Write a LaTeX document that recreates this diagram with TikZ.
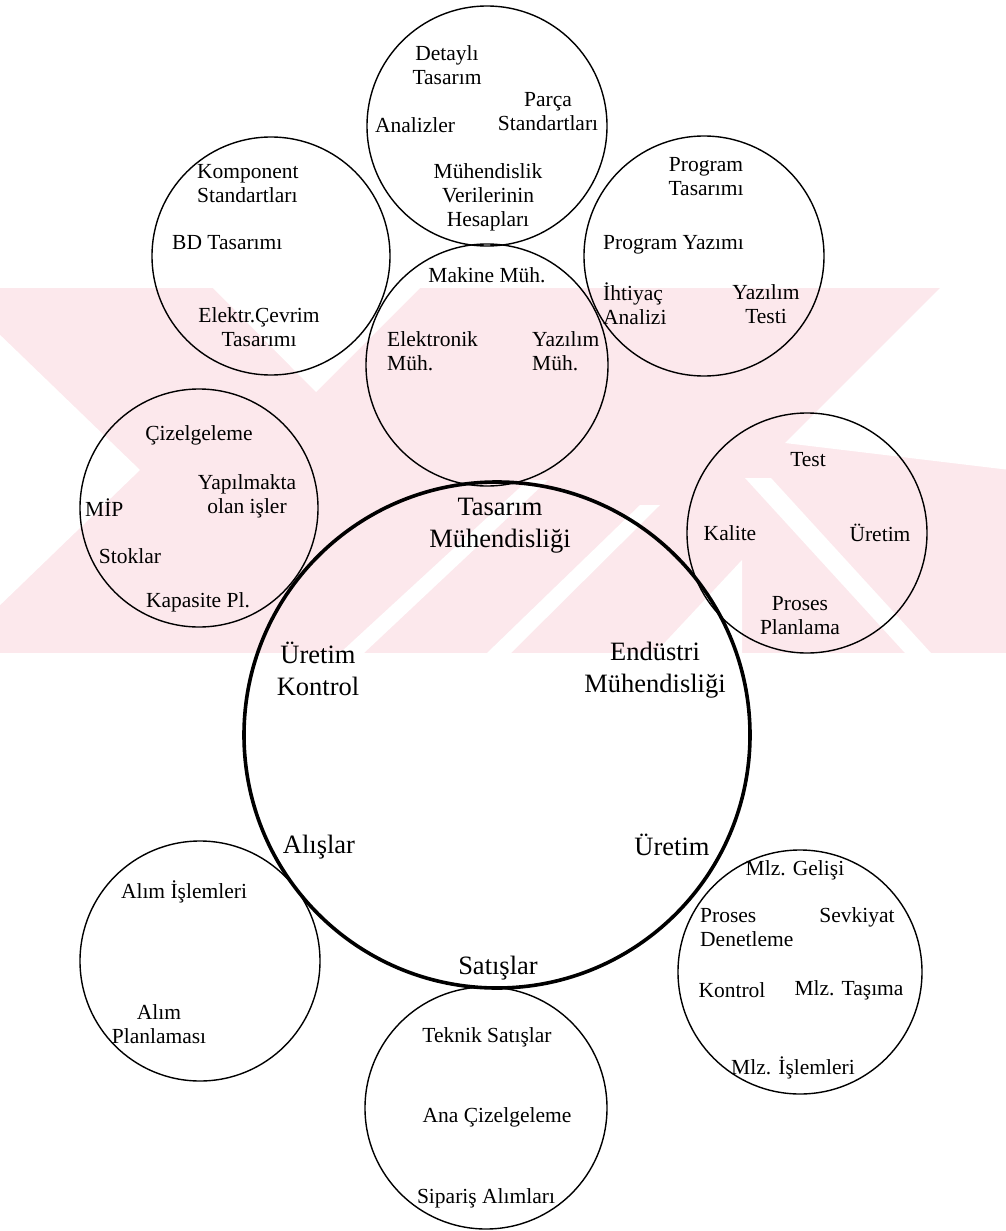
\documentclass[tikz,border=0pt]{standalone}
\usepackage{fontspec}
\setmainfont{Liberation Serif}
\definecolor{wmpink}{RGB}{252,232,236}
\begin{document}
\begin{tikzpicture}[x=1pt,y=-1pt,
  area/.style={circle, draw=black, line width=1.4pt, inner sep=0pt, minimum size=#1},
  core/.style={circle, draw=black, line width=3.6pt, inner sep=0pt, minimum size=#1},
  lbl/.style={font=\fontsize{21.5}{24}\selectfont, inner sep=0pt, align=center},
  lbll/.style={font=\fontsize{21.5}{24}\selectfont, inner sep=0pt, align=left, anchor=west},
  dept/.style={font=\fontsize{26.5}{32}\selectfont, inner sep=0pt, align=center}]
\useasboundingbox (0,0) rectangle (1006,1231);
\fill[white] (0,0) rectangle (1006,1231);

% faint background emblem: a pale band cut by white wedges and stripes
\begin{scope}
  \clip (0,288) rectangle (1006,653);
  \fill[wmpink] (0,288) rectangle (1006,653);
  \fill[white] (-5,330) -- (140,470) -- (-5,610) -- cycle;
  \fill[white] (213,288) -- (420,288) -- (316,392) -- cycle;
  \fill[white] (940,288) -- (1010,288) -- (1010,470) -- (785,443) -- cycle;
  \fill[white] (745,478) -- (771,478) -- (931,653) -- (905,653) -- cycle;
  \fill[white] (340,653) -- (528,480) -- (548,480) -- (364,653) -- cycle;
  \fill[white] (487,653) -- (640,505) -- (660,505) -- (511,653) -- cycle;
  \fill[white] (655,653) -- (742,560) -- (742,653) -- cycle;
\end{scope}

% central circle
\node[core=506pt] (core) at (497,735) {};

% surrounding circles
\node[area=240pt] (top)   at (487,126) {};
\node[area=242pt] (mid)   at (487,365) {};
\node[area=238pt] (ul)    at (271,256) {};
\node[area=240pt] (ur)    at (704,256) {};
\node[area=238pt] (ml)    at (199,508) {};
\node[area=240pt] (mr)    at (807,533) {};
\node[area=240pt] (bl)    at (200,961) {};
\node[area=244pt] (br)    at (800,972) {};
\node[area=242pt] (bot)   at (486,1108) {};

% department labels
\node[dept] (d1) at (500,526) {Tasarım\\Mühendisliği};
\node[dept] (d2) at (318,669) {Üretim\\Kontrol};
\node[dept] (d3) at (655,670) {Endüstri\\Mühendisliği};
\node[dept] (d4) at (319,847) {Alışlar};
\node[dept] (d5) at (672,845) {Üretim};
\node[dept] (d6) at (498,968) {Satışlar};

% top circle
\node[lbl] (t1) at (447,65) {Detaylı\\Tasarım};
\node[lbl] (t2) at (548,112) {Parça\\Standartları};
\node[lbl] (t3) at (415,125) {Analizler};
\node[lbl] (t4) at (488,197) {Mühendislik\\Verilerinin\\Hesapları};

% middle circle
\node[lbl] (m1) at (487,275) {Makine Müh.};
\node[lbll] (m2) at (387,351) {Elektronik\\Müh.};
\node[lbll] (m3) at (532,351) {Yazılım\\Müh.};

% upper left circle
\node[lbll] (u1) at (197,184) {Komponent\\Standartları};
\node[lbll] (u2) at (172,243) {BD Tasarımı};
\node[lbl] (u3) at (259,327) {Elektr.Çevrim\\Tasarımı};

% upper right circle
\node[lbl] (r1) at (706,177) {Program\\Tasarımı};
\node[lbll] (r2) at (603,245) {Program Yazımı};
\node[lbll] (r3) at (603,304) {İhtiyaç\\Analizi};
\node[lbl] (r4) at (766,304) {Yazılım\\Testi};

% middle left circle
\node[lbl] (l1) at (199,435) {Çizelgeleme};
\node[lbl] (l2) at (247,496) {Yapılmakta\\olan işler};
\node[lbll] (l3) at (85,508) {MİP};
\node[lbl] (l4) at (130,556) {Stoklar};
\node[lbl] (l5) at (198,602) {Kapasite Pl.};

% middle right circle
\node[lbl] (q1) at (808,460) {Test};
\node[lbl] (q2) at (730,533) {Kalite};
\node[lbl] (q3) at (880,533) {Üretim};
\node[lbl] (q4) at (800,616) {Proses\\Planlama};

% bottom left circle
\node[lbl] (a1) at (184,892) {Alım İşlemleri};
\node[lbl] (a2) at (159,1024) {Alım\\Planlaması};

% bottom right circle
\node[lbl] (s1) at (795,870) {Mlz. Gelişi};
\node[lbll] (s2) at (700,928) {Proses\\Denetleme};
\node[lbl] (s3) at (857,917) {Sevkiyat};
\node[lbl] (s4) at (732,990) {Kontrol};
\node[lbl] (s5) at (849,990) {Mlz. Taşıma};
\node[lbl] (s6) at (793,1068) {Mlz. İşlemleri};

% bottom circle
\node[lbl] (b1) at (487,1037) {Teknik Satışlar};
\node[lbl] (b2) at (497,1117) {Ana Çizelgeleme};
\node[lbl] (b3) at (486,1198) {Sipariş Alımları};
\end{tikzpicture}
\end{document}
